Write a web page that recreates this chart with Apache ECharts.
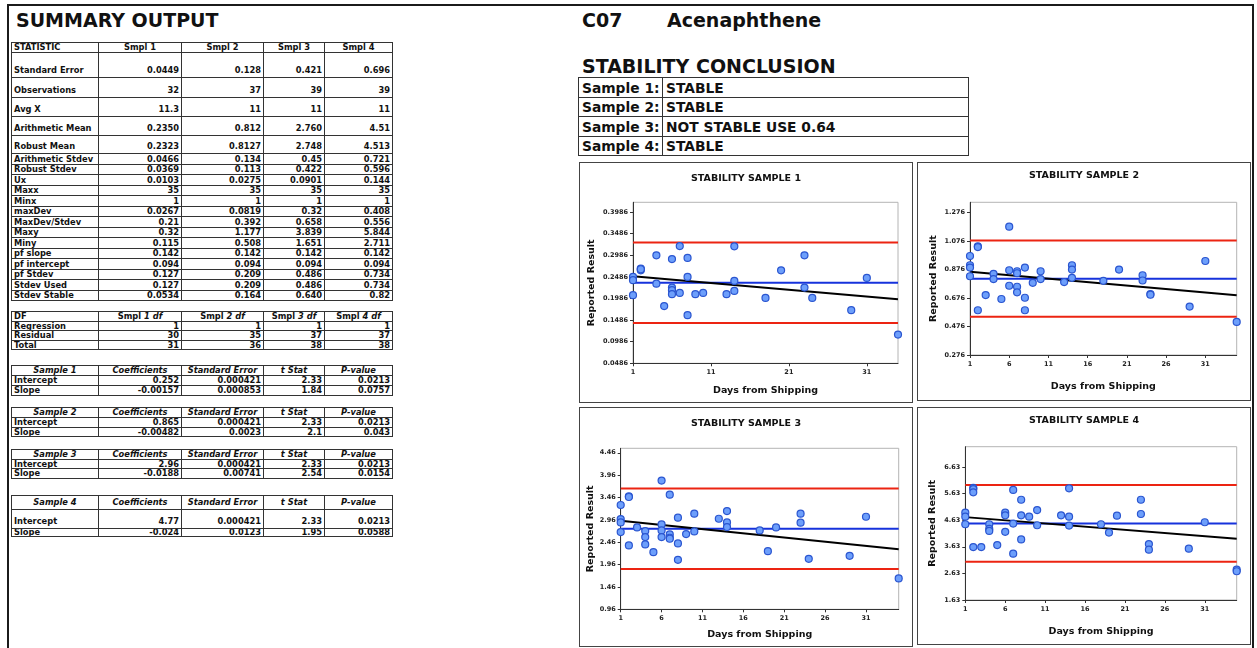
<!DOCTYPE html>
<html>
<head>
<meta charset="utf-8">
<title>C07 Acenaphthene – Stability</title>
<script src="https://cdn.jsdelivr.net/npm/echarts@6.0.0/dist/echarts.min.js"></script>
<style>
html,body{margin:0;padding:0;background:#fff;}
body{width:1257px;height:648px;position:relative;overflow:hidden;font-family:"DejaVu Sans",Verdana,sans-serif;color:#111;}
.frame{position:absolute;left:7px;top:4px;width:1247px;height:700px;border:2px solid #1b1b1b;box-sizing:border-box;}
.h{position:absolute;font-weight:bold;font-size:19px;line-height:22px;white-space:nowrap;color:#111;}
.c{position:absolute;box-sizing:border-box;border:1px solid #333;font-weight:bold;font-size:8.3px;line-height:9px;white-space:pre;display:flex;padding:0 2px 0 2px;overflow:hidden;}
.k{position:absolute;box-sizing:border-box;border:1px solid #333;font-weight:bold;font-size:13.8px;line-height:16px;white-space:nowrap;display:flex;align-items:center;padding:0 3px;}
.box{position:absolute;border:1px solid #444;box-sizing:border-box;background:#fff;}
.box>div{position:absolute;left:0;top:0;right:0;bottom:0;}
</style>
</head>
<body>
<div class="frame"></div>
<div class="h" style="left:16px;top:9px;">SUMMARY OUTPUT</div>
<div class="h" style="left:582px;top:9px;">C07</div>
<div class="h" style="left:667px;top:9px;">Acenaphthene</div>
<div class="h" style="left:582px;top:55px;">STABILITY CONCLUSION</div>
<div id="tables"></div>
<div class="box" style="left:579px;top:162px;width:334px;height:241px;"><div id="c1"></div></div>
<div class="box" style="left:917px;top:162px;width:334px;height:239px;"><div id="c2"></div></div>
<div class="box" style="left:579px;top:407px;width:334px;height:240px;"><div id="c3"></div></div>
<div class="box" style="left:917px;top:407px;width:334px;height:238px;"><div id="c4"></div></div>
<script>
// ---- summary statistics ----
const statHeader = ['STATISTIC', 'Smpl 1', 'Smpl 2', 'Smpl 3', 'Smpl 4'];
const statRows = [
  ['Standard Error', '0.0449', '0.128', '0.421', '0.696'],
  ['Observations', '32', '37', '39', '39'],
  ['Avg X', '11.3', '11', '11', '11'],
  ['Arithmetic Mean', '0.2350', '0.812', '2.760', '4.51'],
  ['Robust Mean', '0.2323', '0.8127', '2.748', '4.513'],
  ['Arithmetic Stdev', '0.0466', '0.134', '0.45', '0.721'],
  ['Robust Stdev', '0.0369', '0.113', '0.422', '0.596'],
  ['Ux', '0.0103', '0.0275', '0.0901', '0.144'],
  ['Maxx', '35', '35', '35', '35'],
  ['Minx', '1', '1', '1', '1'],
  ['maxDev', '0.0267', '0.0819', '0.32', '0.408'],
  ['MaxDev/Stdev', '0.21', '0.392', '0.658', '0.556'],
  ['Maxy', '0.32', '1.177', '3.839', '5.844'],
  ['Miny', '0.115', '0.508', '1.651', '2.711'],
  ['pf slope', '0.142', '0.142', '0.142', '0.142'],
  ['pf intercept', '0.094', '0.094', '0.094', '0.094'],
  ['pf Stdev', '0.127', '0.209', '0.486', '0.734'],
  ['Stdev Used', '0.127', '0.209', '0.486', '0.734'],
  ['Stdev Stable', '0.0534', '0.164', '0.640', '0.82']
];

const dfHeader = ['DF', 'Smpl <i>1 df</i>', 'Smpl <i>2 df</i>', 'Smpl <i>3 df</i>', 'Smpl <i>4 df</i>'];
const dfRows = [
  ['Regression', '1', '1', '1', '1'],
  ['Residual', '30', '35', '37', '37'],
  ['Total', '31', '36', '38', '38']
];

const coefHeader = ['Coefficients', 'Standard Error', 't Stat', 'P-value'];
const coefSample1 = [['Intercept', '0.252', '0.000421', '2.33', '0.0213'], ['Slope', '-0.00157', '0.000853', '1.84', '0.0757']];
const coefSample2 = [['Intercept', '0.865', '0.000421', '2.33', '0.0213'], ['Slope', '-0.00482', '0.0023', '2.1', '0.043']];
const coefSample3 = [['Intercept', '2.96', '0.000421', '2.33', '0.0213'], ['Slope', '-0.0188', '0.00741', '2.54', '0.0154']];
const coefSample4 = [['Intercept', '4.77', '0.000421', '2.33', '0.0213'], ['Slope', '-0.024', '0.0123', '1.95', '0.0588']];

const conclusionLabels = ['Sample 1:', 'Sample 2:', 'Sample 3:', 'Sample 4:'];
const conclusionText = ['STABLE', 'STABLE', 'NOT STABLE USE 0.64', 'STABLE'];

// ---- reported results by day from shipping ----
const days1 = [1, 1, 1, 2, 2, 2, 4, 4, 5, 6, 6, 6, 6, 7, 7, 8, 8, 8, 9, 10, 13, 14, 14, 14, 18, 20, 23, 23, 24, 29, 31, 35];
const result1 = [0.2486, 0.2410, 0.2063, 0.2680, 0.2640, 0.2664, 0.2986, 0.2330, 0.1810, 0.2900, 0.2240, 0.2180, 0.2086, 0.3200, 0.2116, 0.2925, 0.2486, 0.1600, 0.2086, 0.2116, 0.2086, 0.3194, 0.2394, 0.2163, 0.2000, 0.2640, 0.2986, 0.2240, 0.2000, 0.1717, 0.2463, 0.1150];

const days2 = [1, 1, 1, 1, 2, 2, 2, 3, 4, 4, 5, 6, 6, 6, 7, 7, 7, 7, 8, 8, 8, 9, 10, 10, 13, 14, 14, 14, 18, 20, 23, 23, 24, 24, 29, 31, 35];
const result2 = [0.971, 0.906, 0.890, 0.829, 1.039, 1.034, 0.590, 0.697, 0.846, 0.809, 0.669, 1.177, 0.871, 0.762, 0.864, 0.850, 0.755, 0.716, 0.890, 0.678, 0.590, 0.783, 0.864, 0.809, 0.788, 0.906, 0.876, 0.818, 0.797, 0.876, 0.836, 0.799, 0.704, 0.699, 0.616, 0.936, 0.508];

const days3 = [1, 1, 1, 1, 2, 2, 2, 3, 4, 4, 4, 5, 6, 6, 6, 6, 7, 7, 7, 7, 8, 8, 8, 9, 10, 10, 13, 14, 14, 14, 18, 19, 20, 23, 23, 24, 29, 31, 35];
const result3 = [3.292, 2.978, 2.903, 2.687, 3.486, 3.471, 2.388, 2.791, 2.709, 2.574, 2.410, 2.238, 3.839, 2.858, 2.724, 2.574, 3.524, 2.634, 2.560, 2.537, 3.008, 2.432, 2.066, 2.642, 3.098, 2.701, 2.985, 3.157, 2.903, 2.799, 2.724, 2.260, 2.791, 3.098, 2.896, 2.089, 2.156, 3.030, 1.651];

const days4 = [1, 1, 1, 2, 2, 2, 2, 3, 4, 4, 4, 5, 6, 6, 6, 7, 7, 7, 8, 8, 8, 9, 10, 10, 13, 14, 14, 14, 18, 19, 20, 23, 23, 24, 24, 29, 31, 35, 35];
const result4 = [4.914, 4.764, 4.478, 5.844, 5.800, 5.680, 3.620, 3.620, 4.478, 4.304, 4.229, 3.695, 4.914, 4.814, 4.192, 5.770, 4.503, 3.371, 5.400, 4.814, 3.906, 4.764, 5.013, 4.441, 4.814, 5.830, 4.764, 4.429, 4.478, 4.167, 4.802, 5.400, 4.864, 3.732, 3.521, 3.558, 4.553, 2.770, 2.711];

// ---- axis tick labels ----
const yTickLabels1 = ['0.0486', '0.0986', '0.1486', '0.1986', '0.2486', '0.2986', '0.3486', '0.3986'];
const yTickLabels2 = ['0.276', '0.476', '0.676', '0.876', '1.076', '1.276'];
const yTickLabels3 = ['0.96', '1.46', '1.96', '2.46', '2.96', '3.46', '3.96', '4.46'];
const yTickLabels4 = ['1.63', '2.63', '3.63', '4.63', '5.63', '6.63'];
const xTickLabels1 = [1, 11, 21, 31];
const xTickLabels2 = [1, 6, 11, 16, 21, 26, 31];

const chartTitles = ['STABILITY SAMPLE 1', 'STABILITY SAMPLE 2', 'STABILITY SAMPLE 3', 'STABILITY SAMPLE 4'];
const xAxisName = 'Days from Shipping';
const yAxisName = 'Reported Result';

// ---- tables (HTML) ----
const FONT = '"DejaVu Sans", Verdana, sans-serif';
let html = '';
function addTable(xEdges, yEdges, rows, headerRows, italicHeader) {
  rows.forEach((row, r) => {
    const top = Math.round(yEdges[r]);
    const h = Math.round(yEdges[r + 1]) - top + 1;
    const isHead = r < headerRows;
    row.forEach((txt, c) => {
      const left = Math.round(xEdges[c]);
      const w = Math.round(xEdges[c + 1]) - left + 1;
      let just = c === 0 ? 'flex-start' : 'flex-end';
      if (isHead && (c > 0 || italicHeader)) just = 'center';
      const tall = !isHead && h > 14;
      const align = tall ? 'flex-end' : 'center';
      const pad = tall ? 'padding-bottom:2px;' : '';
      const ital = isHead && italicHeader ? 'font-style:italic;' : '';
      html += `<div class="c" style="left:${left}px;top:${top}px;width:${w}px;height:${h}px;justify-content:${just};align-items:${align};${pad}${ital}"><span>${txt}</span></div>`;
    });
  });
}
const colEdges = [11, 98, 181, 263, 324, 392];
const statY = [42, 52, 77, 97, 116, 135, 153];
for (let i = 1; i <= 14; i++) statY.push(153 + i * 10.5);
addTable(colEdges, statY, [statHeader].concat(statRows), 1, false);
addTable(colEdges, [311, 321, 330, 340, 349], [dfHeader].concat(dfRows), 1, false);
const coefTables = [coefSample1, coefSample2, coefSample3, coefSample4];
const coefY = [[365, 375, 385, 395], [407, 417, 427, 436], [449, 459, 468, 478], [495, 509, 528, 536]];
coefTables.forEach((t, i) => {
  addTable(colEdges, coefY[i], [['Sample ' + (i + 1)].concat(coefHeader)].concat(t), 1, true);
});
// conclusion box
const kx = [578, 662, 968];
const ky = [77, 96.5, 116, 135.5, 155];
conclusionLabels.forEach((lab, r) => {
  const top = Math.round(ky[r]);
  const h = Math.round(ky[r + 1]) - top + 1;
  html += `<div class="k" style="left:${kx[0]}px;top:${top}px;width:${kx[1] - kx[0] + 1}px;height:${h}px;">${lab}</div>`;
  html += `<div class="k" style="left:${kx[1]}px;top:${top}px;width:${kx[2] - kx[1] + 1}px;height:${h}px;">${conclusionText[r]}</div>`;
});
document.getElementById('tables').innerHTML = html;

// ---- stability charts ----
function statValue(name, i) {
  const row = statRows.find(r => r[0] === name);
  return parseFloat(row[i + 1]);
}
const samples = [
  { days: days1, res: result1, yTicks: yTickLabels1, xTicks: xTickLabels1 },
  { days: days2, res: result2, yTicks: yTickLabels2, xTicks: xTickLabels2 },
  { days: days3, res: result3, yTicks: yTickLabels3, xTicks: xTickLabels2 },
  { days: days4, res: result4, yTicks: yTickLabels4, xTicks: xTickLabels2 }
];
// plot area and label placement inside each chart box
const layouts = [
  { grid: { left: 53, top: 39.3, width: 265, height: 161 }, titleY: 16, xNameY: 228, yNameX: 12 },
  { grid: { left: 52, top: 39.3, width: 266.7, height: 152.7 }, titleY: 13, xNameY: 224, yNameX: 15.3 },
  { grid: { left: 40.7, top: 40.3, width: 278, height: 161 }, titleY: 16, xNameY: 227, yNameX: 10.7 },
  { grid: { left: 47.3, top: 38.7, width: 271.4, height: 153.3 }, titleY: 12.7, xNameY: 223.7, yNameX: 14.7 }
];

samples.forEach((s, i) => {
  const el = document.getElementById('c' + (i + 1));
  const chart = echarts.init(el, null, { renderer: 'canvas' });
  const W = el.clientWidth;
  const L = layouts[i];
  const mean = statValue('Arithmetic Mean', i);
  const sd = statValue('Arithmetic Stdev', i);
  const xMin = statValue('Minx', i);
  const xMax = statValue('Maxx', i);
  const coef = coefTables[i];
  const b0 = parseFloat(coef[0][1]);
  const b1 = parseFloat(coef[1][1]);
  const yTickVals = s.yTicks.map(Number);
  const yMin = yTickVals[0];
  const yMax = mean + 4 * sd;
  const upper = mean + 2 * sd;
  const lower = mean - 2 * sd;
  const hline = (v) => [[xMin, v], [xMax, v]];
  const lineSeries = (data, color, z) => ({
    type: 'line', data, symbol: 'none', silent: true, z,
    lineStyle: { color, width: 2 }, animation: false
  });
  const plotCx = L.grid.left + L.grid.width / 2;
  const plotCy = L.grid.top + L.grid.height / 2;
  chart.setOption({
    animation: false,
    grid: Object.assign({ show: true, borderColor: '#b4b4b4', borderWidth: 1, backgroundColor: '#fff' }, L.grid),
    xAxis: {
      type: 'value', min: xMin, max: xMax,
      axisLine: { show: true, onZero: false, lineStyle: { color: '#333', width: 1 } },
      axisTick: { show: true, length: 3, customValues: s.xTicks, lineStyle: { color: '#333' } },
      axisLabel: { customValues: s.xTicks, margin: 6, fontSize: 6.5, fontWeight: 'bold', fontFamily: FONT, color: '#222' },
      splitLine: { show: false }
    },
    yAxis: {
      type: 'value', min: yMin, max: yMax,
      axisLine: { show: true, onZero: false, lineStyle: { color: '#333', width: 1 } },
      axisTick: { show: true, length: 3, customValues: yTickVals, lineStyle: { color: '#333' } },
      axisLabel: { customValues: yTickVals, margin: 5, fontSize: 6.5, fontWeight: 'bold', fontFamily: FONT, color: '#222',
        formatter: (v) => { const k = yTickVals.indexOf(v); return k >= 0 ? s.yTicks[k] : String(v); } },
      splitLine: { show: false }
    },
    graphic: [
      { type: 'text', x: W / 2, y: L.titleY, silent: true,
        style: { text: chartTitles[i], align: 'center', verticalAlign: 'middle', textAlign: 'center', textVerticalAlign: 'middle',
          font: 'bold 9.5px ' + FONT, fill: '#111' } },
      { type: 'text', x: plotCx, y: L.xNameY, silent: true,
        style: { text: xAxisName, align: 'center', verticalAlign: 'middle', textAlign: 'center', textVerticalAlign: 'middle',
          font: 'bold 9.5px ' + FONT, fill: '#111' } },
      { type: 'text', x: L.yNameX, y: plotCy, rotation: Math.PI / 2, silent: true,
        style: { text: yAxisName, align: 'center', verticalAlign: 'middle', textAlign: 'center', textVerticalAlign: 'middle',
          font: 'bold 9.5px ' + FONT, fill: '#111' } }
    ],
    series: [
      lineSeries(hline(upper), '#ec2412', 2),
      lineSeries(hline(lower), '#ec2412', 2),
      lineSeries(hline(mean), '#1632dc', 2),
      lineSeries([[xMin, b0 + b1 * xMin], [xMax, b0 + b1 * xMax]], '#000', 3),
      {
        type: 'scatter', z: 5, animation: false,
        data: s.days.map((d, k) => [d, s.res[k]]),
        symbol: 'circle', symbolSize: 7,
        itemStyle: { color: '#6d9ffb', borderColor: '#2a55d0', borderWidth: 1.2, opacity: 1 }
      }
    ]
  });
});
</script>
</body>
</html>
